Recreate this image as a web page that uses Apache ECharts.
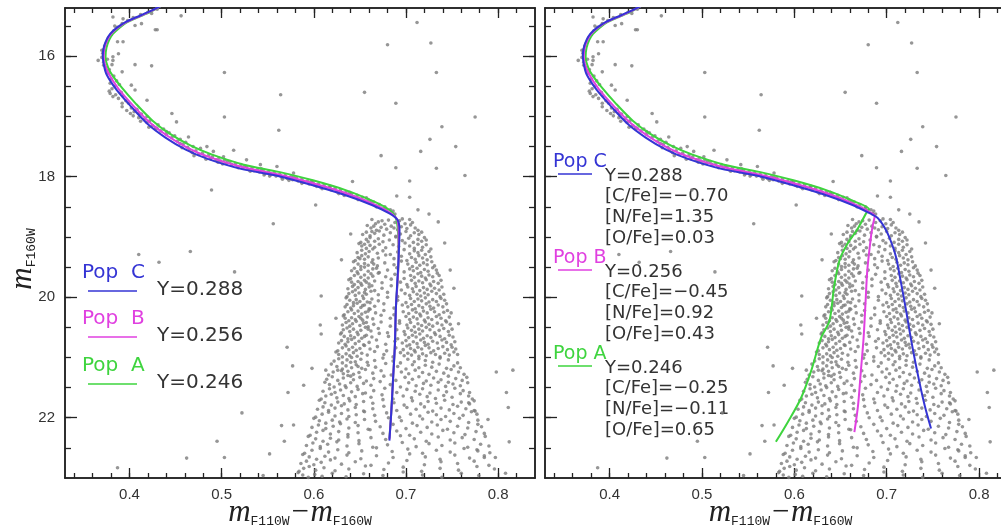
<!DOCTYPE html>
<html><head><meta charset="utf-8">
<script src="https://cdn.jsdelivr.net/npm/echarts@6/dist/echarts.min.js"></script>
<style>html,body{margin:0;padding:0;background:#fff}#c{width:1001px;height:529px}</style>
</head><body><div id="c"></div>
<script>
// ---- axis ranges & ticks ----
const xRange = [0.33, 0.84];
const yRange = [15.2, 23.0];
const xMajorTicks = [0.4, 0.5, 0.6, 0.7, 0.8];
const xTickLabels = ['0.4', '0.5', '0.6', '0.7', '0.8'];
const xMinorTicks = [0.34,0.36,0.38,0.40,0.42,0.44,0.46,0.48,0.50,0.52,0.54,0.56,0.58,0.60,0.62,0.64,0.66,0.68,0.70,0.72,0.74,0.76,0.78,0.80,0.82];
const yMajorTicks = [16, 18, 20, 22];
const yTickLabels = ['16', '18', '20', '22'];
const yMinorTicks = [15.5,16,16.5,17,17.5,18,18.5,19,19.5,20,20.5,21,21.5,22,22.5];

// ---- isochrones (colour, magnitude) ----
const isoUpperC = [[0.436,15.15],[0.420,15.27],[0.408,15.35],[0.396,15.43],[0.386,15.53],[0.379,15.63],[0.375,15.73],[0.372,15.86],[0.371,16.00],[0.372,16.13],[0.375,16.30],[0.386,16.56],[0.402,16.84],[0.420,17.13],[0.439,17.35],[0.461,17.55],[0.484,17.70],[0.521,17.87],[0.559,17.98],[0.596,18.13],[0.633,18.30],[0.663,18.47],[0.682,18.61]];
const isoUpperB = [[0.436,15.15],[0.421,15.27],[0.409,15.35],[0.397,15.43],[0.387,15.53],[0.380,15.63],[0.376,15.73],[0.373,15.86],[0.372,16.00],[0.373,16.12],[0.377,16.28],[0.388,16.54],[0.404,16.82],[0.422,17.10],[0.441,17.32],[0.463,17.52],[0.486,17.67],[0.522,17.84],[0.560,17.96],[0.597,18.10],[0.634,18.27],[0.664,18.45],[0.682,18.59]];
const isoUpperA = [[0.436,15.15],[0.422,15.27],[0.410,15.35],[0.398,15.43],[0.389,15.53],[0.382,15.63],[0.378,15.73],[0.375,15.86],[0.374,16.00],[0.375,16.11],[0.379,16.26],[0.391,16.51],[0.407,16.79],[0.425,17.07],[0.444,17.29],[0.466,17.48],[0.489,17.63],[0.524,17.80],[0.562,17.92],[0.599,18.06],[0.636,18.23],[0.665,18.41],[0.681,18.54]];
const leftLowerC = [[0.691,18.72],[0.693,18.89],[0.692,19.34],[0.689,20.20],[0.688,20.78],[0.686,21.35],[0.684,21.92],[0.682,22.38]];
const leftLowerB = [[0.690,18.70],[0.692,18.88],[0.692,19.34],[0.689,20.20],[0.688,20.78],[0.686,21.35],[0.684,21.92],[0.682,22.36]];
const leftLowerA = [[0.688,18.65],[0.691,18.85],[0.692,19.34],[0.689,20.20],[0.688,20.78],[0.686,21.35],[0.684,21.92],[0.682,22.34]];
const rightLowerC = [[0.690,18.68],[0.698,18.85],[0.704,19.05],[0.710,19.33],[0.715,19.72],[0.721,20.22],[0.726,20.67],[0.733,21.23],[0.741,21.79],[0.748,22.18]];
const rightLowerB = [[0.687,18.65],[0.685,18.80],[0.683,18.99],[0.679,19.55],[0.677,20.11],[0.675,20.67],[0.672,21.23],[0.669,21.79],[0.665,22.24]];
const rightLowerA = [[0.678,18.60],[0.668,18.88],[0.658,19.10],[0.649,19.38],[0.643,19.83],[0.638,20.39],[0.629,20.67],[0.618,21.23],[0.607,21.68],[0.593,22.07],[0.580,22.40]];

// ---- stars (colour, magnitude) ----
const upperStars = [[0.430,15.22],[0.420,15.27],[0.412,15.31],[0.404,15.36],[0.398,15.41],[0.392,15.46],[0.387,15.52],[0.383,15.58],[0.380,15.64],[0.377,15.70],[0.375,15.77],[0.373,15.83],[0.372,15.89],[0.371,15.95],[0.370,16.02],
[0.382,15.35],[0.393,15.38],[0.384,15.50],[0.406,15.49],[0.413,15.46],[0.428,15.56],[0.424,15.29],[0.387,15.76],[0.393,15.76],[0.388,15.96],[0.382,16.01],[0.370,15.90],[0.366,16.07],[0.372,16.15],[0.375,16.23],[0.382,16.07],[0.392,16.26],[0.402,16.48],[0.406,16.56],[0.379,16.62],[0.382,16.67],[0.392,16.78],[0.401,16.95],[0.410,16.95],[0.419,17.00],[0.419,16.73],[0.430,17.20],[0.440,17.25],[0.446,16.95],[0.451,17.09],[0.455,17.45],[0.464,17.34],[0.469,17.50],[0.477,17.53],[0.484,17.50],[0.491,17.58],[0.513,17.56],[0.502,17.67],[0.527,17.72],[0.542,17.80],[0.560,17.83],[0.578,17.94],
[0.372,16.10],[0.376,16.05],[0.374,16.18],[0.378,16.22],[0.381,16.14],[0.377,16.28],[0.383,16.33],[0.380,16.38],[0.386,16.41],[0.379,16.45],[0.384,16.50],[0.389,16.47],[0.378,16.58],[0.381,16.54],[0.385,16.64],[0.391,16.60],[0.388,16.70],[0.393,16.66],[0.396,16.74],[0.392,16.84],[0.399,16.78],[0.402,16.86],[0.397,16.90],[0.405,16.92],[0.408,16.88],[0.404,16.99],[0.410,17.02],[0.413,16.96],[0.416,17.05],[0.412,17.08],[0.419,17.10],[0.422,17.07],[0.425,17.15],[0.421,17.18],[0.428,17.19],[0.431,17.14],[0.434,17.24],[0.437,17.21],[0.440,17.30],[0.443,17.27],[0.446,17.35],[0.449,17.32],[0.452,17.41],[0.455,17.38],[0.458,17.46],[0.461,17.43],[0.463,17.51],[0.457,17.52],
[0.465,17.55],[0.468,17.60],[0.472,17.57],[0.475,17.63],[0.479,17.61],[0.481,17.66],[0.486,17.64],[0.488,17.70],[0.490,17.67],[0.494,17.72],[0.497,17.69],[0.499,17.74],[0.503,17.72],[0.505,17.78],[0.509,17.75],[0.511,17.80],[0.515,17.78],[0.517,17.83],[0.521,17.80],[0.523,17.86],[0.527,17.83],[0.529,17.88],[0.533,17.85],[0.535,17.90],[0.539,17.88],[0.541,17.92],[0.545,17.89],[0.547,17.95],[0.551,17.92],[0.553,17.97],[0.557,17.94],[0.559,17.99],[0.563,17.96],[0.565,18.01],[0.569,17.98],[0.571,18.03],[0.575,18.00],[0.577,18.05],[0.581,18.02],[0.583,18.07],[0.587,18.04],[0.589,18.09],[0.593,18.07],[0.595,18.12],[0.599,18.09],[0.601,18.14],[0.605,18.12],[0.607,18.17],[0.611,18.14],[0.613,18.19],[0.617,18.17],[0.619,18.22],[0.623,18.19],[0.625,18.25],[0.629,18.22],[0.631,18.27],[0.635,18.25],[0.637,18.30],[0.641,18.28],[0.643,18.33],[0.647,18.31],[0.649,18.36],[0.653,18.34],[0.655,18.40],[0.659,18.38],[0.661,18.44],[0.665,18.42],[0.667,18.48],[0.671,18.46],[0.673,18.52],[0.677,18.50],[0.679,18.56],[0.683,18.55],[0.685,18.61],[0.688,18.62],
[0.470,17.65],[0.483,17.71],[0.496,17.76],[0.506,17.74],[0.518,17.85],[0.531,17.91],[0.543,17.87],[0.552,17.99],[0.566,18.04],[0.578,18.01],[0.587,18.11],[0.597,18.08],[0.609,18.20],[0.618,18.16],[0.627,18.28],[0.639,18.26],[0.648,18.38],[0.657,18.35],[0.668,18.50],[0.677,18.53],[0.501,17.79],[0.525,17.82],[0.546,17.97],[0.573,18.06],[0.603,18.16],[0.633,18.31],[0.662,18.41],[0.686,18.57]];

const fieldStars = [[0.456,15.33],[0.430,15.56],[0.503,16.27],[0.424,16.16],[0.406,16.14],[0.564,16.64],[0.503,17.01],[0.562,17.23],[0.680,15.81],[0.727,15.78],[0.712,15.44],[0.733,16.27],[0.655,16.60],[0.689,16.78],[0.775,17.01],[0.739,17.17],[0.726,17.38],[0.754,17.50],[0.716,17.58],[0.673,17.65],[0.689,17.85],[0.733,17.86],[0.764,17.98],[0.642,18.08],[0.704,18.07],[0.704,18.34],[0.690,18.32],[0.713,18.55],[0.735,18.75],[0.489,18.22],[0.602,18.47],[0.556,18.78],[0.410,19.29],[0.432,19.42],[0.466,19.24],[0.514,19.58],[0.630,19.38],[0.608,19.98],[0.607,20.46],[0.608,20.61],[0.624,20.35],[0.571,20.83],[0.577,21.14],[0.598,21.18],[0.613,21.21],[0.572,21.58],[0.589,21.46],[0.522,21.92],[0.565,22.13],[0.578,22.12],[0.495,22.39],[0.568,22.39],[0.462,22.67],[0.503,22.66],[0.552,22.60],[0.387,22.83],[0.749,20.26],[0.757,20.44],[0.798,21.24],[0.816,21.21],[0.809,21.58],[0.811,21.83],[0.812,22.40],[0.808,22.92],[0.789,22.03],[0.785,22.66],[0.777,22.53],[0.746,21.41],[0.768,21.75],[0.775,21.89],[0.545,22.96],[0.640,18.95],[0.725,18.62],[0.742,19.10],[0.748,19.55],[0.752,19.85]];

const msStars = [
[.663,18.71],[.670,18.75],[.677,18.79],[.681,18.72],[.688,18.76],[.693,18.73],[.699,18.78],[.704,18.71],[.667,18.78],[.674,18.73],[.696,18.70],[.707,18.76],
[.658,18.81],[.662,18.85],[.668,18.89],[.673,18.84],[.679,18.87],[.684,18.82],[.691,18.88],[.695,18.83],[.701,18.86],[.705,18.80],[.710,18.85],[.713,18.89],[.665,18.82],[.687,18.85],
[.653,18.96],[.657,18.92],[.661,18.98],[.666,18.94],[.671,18.90],[.676,18.97],[.683,18.93],[.689,18.99],[.694,18.95],[.700,18.91],[.705,18.98],[.709,18.93],[.714,18.96],[.717,18.92],[.663,18.91],
[.651,19.09],[.657,19.04],[.661,19.01],[.666,19.07],[.670,19.03],[.675,19.08],[.682,19.05],[.689,19.00],[.696,19.06],[.703,19.02],[.708,19.09],[.713,19.04],[.717,19.07],[.720,19.01],[.722,19.05],[.659,19.08],
[.649,19.11],[.652,19.15],[.657,19.19],[.661,19.14],[.666,19.17],[.671,19.12],[.678,19.18],[.686,19.13],[.692,19.16],[.699,19.10],[.704,19.15],[.709,19.19],[.713,19.12],[.718,19.17],[.722,19.13],[.655,19.12],
[.647,19.26],[.652,19.22],[.656,19.28],[.660,19.24],[.664,19.20],[.669,19.27],[.675,19.23],[.683,19.29],[.691,19.25],[.698,19.21],[.704,19.28],[.709,19.23],[.713,19.26],[.717,19.22],[.721,19.29],[.725,19.24],[.727,19.20],
[.645,19.39],[.648,19.34],[.652,19.31],[.655,19.37],[.659,19.33],[.664,19.38],[.670,19.35],[.678,19.30],[.687,19.36],[.695,19.32],[.701,19.39],[.706,19.34],[.710,19.37],[.714,19.31],[.718,19.35],[.723,19.38],[.727,19.33],[.650,19.36],
[.643,19.41],[.648,19.45],[.651,19.49],[.655,19.44],[.659,19.47],[.663,19.42],[.669,19.48],[.677,19.43],[.687,19.46],[.695,19.40],[.702,19.45],[.707,19.49],[.711,19.42],[.715,19.47],[.719,19.43],[.723,19.46],[.728,19.41],[.731,19.48],[.665,19.45],
[.641,19.56],[.644,19.52],[.647,19.58],[.651,19.54],[.655,19.50],[.659,19.57],[.664,19.53],[.671,19.59],[.680,19.55],[.690,19.51],[.698,19.58],[.704,19.53],[.708,19.56],[.712,19.52],[.716,19.59],[.720,19.54],[.724,19.57],[.729,19.51],[.733,19.55],[.668,19.52],
[.640,19.69],[.644,19.64],[.648,19.61],[.651,19.67],[.655,19.63],[.659,19.68],[.664,19.65],[.670,19.60],[.678,19.66],[.688,19.62],[.698,19.69],[.705,19.64],[.709,19.67],[.713,19.61],[.717,19.65],[.721,19.68],[.725,19.63],[.729,19.66],[.734,19.60],[.736,19.64],[.662,19.61],
[.638,19.71],[.641,19.75],[.644,19.79],[.648,19.74],[.651,19.77],[.655,19.72],[.660,19.78],[.666,19.73],[.674,19.76],[.684,19.70],[.694,19.75],[.701,19.79],[.706,19.72],[.710,19.77],[.714,19.73],[.718,19.76],[.722,19.71],[.726,19.78],[.730,19.74],[.735,19.77],[.738,19.72],[.657,19.75],
[.637,19.86],[.642,19.82],[.645,19.88],[.648,19.84],[.652,19.80],[.656,19.87],[.660,19.83],[.666,19.89],[.674,19.85],[.684,19.81],[.695,19.88],[.702,19.83],[.707,19.86],[.711,19.82],[.715,19.89],[.719,19.84],[.723,19.87],[.727,19.81],[.731,19.85],[.736,19.88],[.739,19.83],[.663,19.81],
[.636,19.99],[.638,19.94],[.642,19.91],[.645,19.97],[.649,19.93],[.653,19.98],[.657,19.95],[.662,19.90],[.670,19.96],[.680,19.92],[.691,19.99],[.699,19.94],[.704,19.97],[.708,19.91],[.712,19.95],[.716,19.98],[.720,19.93],[.724,19.96],[.728,19.90],[.733,19.94],[.737,19.99],[.741,19.95],[.655,19.92],
[.635,20.01],[.639,20.05],[.643,20.09],[.646,20.04],[.650,20.07],[.654,20.02],[.658,20.08],[.663,20.03],[.670,20.06],[.680,20.00],[.691,20.05],[.700,20.09],[.705,20.02],[.709,20.07],[.713,20.03],[.717,20.06],[.721,20.01],[.725,20.08],[.729,20.04],[.733,20.07],[.738,20.02],[.742,20.05],[.661,20.09],
[.634,20.16],[.636,20.12],[.640,20.18],[.643,20.14],[.647,20.10],[.651,20.17],[.655,20.13],[.660,20.19],[.666,20.15],[.676,20.11],[.687,20.18],[.696,20.13],[.702,20.16],[.706,20.12],[.710,20.19],[.714,20.14],[.718,20.17],[.722,20.11],[.726,20.15],[.730,20.18],[.735,20.13],[.740,20.16],[.744,20.11],[.653,20.14],
[.633,20.29],[.637,20.24],[.641,20.21],[.644,20.27],[.648,20.23],[.652,20.28],[.656,20.25],[.661,20.20],[.667,20.26],[.676,20.22],[.687,20.29],[.697,20.24],[.703,20.27],[.707,20.21],[.711,20.25],[.715,20.28],[.719,20.23],[.723,20.26],[.727,20.20],[.731,20.24],[.736,20.29],[.741,20.25],[.745,20.22],[.659,20.23],
[.632,20.31],[.634,20.35],[.638,20.39],[.641,20.34],[.645,20.37],[.649,20.32],[.653,20.38],[.658,20.33],[.664,20.36],[.673,20.30],[.683,20.35],[.693,20.39],[.700,20.32],[.704,20.37],[.708,20.33],[.712,20.36],[.716,20.31],[.720,20.38],[.724,20.34],[.728,20.37],[.733,20.32],[.738,20.35],[.743,20.39],[.747,20.33],[.651,20.35],
[.631,20.46],[.635,20.42],[.639,20.48],[.642,20.44],[.646,20.40],[.650,20.47],[.654,20.43],[.659,20.49],[.665,20.45],[.673,20.41],[.683,20.48],[.693,20.43],[.701,20.46],[.705,20.42],[.709,20.49],[.713,20.44],[.717,20.47],[.721,20.41],[.725,20.45],[.729,20.48],[.734,20.43],[.739,20.46],[.744,20.41],[.748,20.45],[.657,20.42],
[.630,20.59],[.632,20.54],[.636,20.51],[.639,20.57],[.643,20.53],[.647,20.58],[.651,20.55],[.656,20.50],[.662,20.56],[.670,20.52],[.680,20.59],[.690,20.54],[.698,20.57],[.702,20.51],[.706,20.55],[.710,20.58],[.714,20.53],[.718,20.56],[.722,20.50],[.726,20.54],[.731,20.59],[.736,20.55],[.741,20.52],[.746,20.57],[.750,20.53],[.659,20.53],
[.629,20.61],[.633,20.65],[.637,20.69],[.640,20.64],[.644,20.67],[.648,20.62],[.652,20.68],[.657,20.63],[.663,20.66],[.671,20.60],[.681,20.65],[.691,20.69],[.699,20.62],[.703,20.67],[.707,20.63],[.711,20.66],[.715,20.61],[.719,20.68],[.723,20.64],[.727,20.67],[.732,20.62],[.737,20.65],[.742,20.69],[.747,20.63],[.751,20.66],[.655,20.65],
[.627,20.76],[.630,20.72],[.634,20.78],[.637,20.74],[.641,20.70],[.645,20.77],[.649,20.73],[.654,20.79],[.660,20.75],[.668,20.71],[.678,20.78],[.688,20.73],[.696,20.76],[.700,20.72],[.704,20.79],[.708,20.74],[.712,20.77],[.716,20.71],[.720,20.75],[.724,20.78],[.729,20.73],[.734,20.76],[.739,20.71],[.744,20.75],[.749,20.79],[.753,20.74],
[.626,20.89],[.631,20.84],[.635,20.81],[.638,20.87],[.642,20.83],[.646,20.88],[.650,20.85],[.655,20.80],[.661,20.86],[.669,20.82],[.679,20.89],[.689,20.84],[.697,20.87],[.701,20.81],[.705,20.85],[.709,20.88],[.713,20.83],[.717,20.86],[.721,20.80],[.725,20.84],[.730,20.89],[.735,20.85],[.740,20.82],[.745,20.87],[.750,20.83],[.754,20.86],
[.624,20.91],[.627,20.95],[.631,20.99],[.635,20.94],[.639,20.97],[.643,20.92],[.647,20.98],[.652,20.93],[.658,20.96],[.666,20.90],[.676,20.95],[.686,20.99],[.694,20.92],[.698,20.97],[.702,20.93],[.706,20.96],[.710,20.91],[.714,20.98],[.718,20.94],[.722,20.97],[.727,20.92],[.732,20.95],[.737,20.99],[.742,20.93],[.747,20.96],[.752,20.91],[.756,20.95],
[.622,21.06],[.627,21.02],[.631,21.09],[.636,21.04],[.641,21.00],[.645,21.07],[.651,21.03],[.658,21.08],[.666,21.05],[.675,21.01],[.686,21.06],[.694,21.09],[.702,21.03],[.709,21.07],[.714,21.02],[.721,21.05],[.729,21.08],[.737,21.01],[.746,21.04],[.756,21.09],[.640,21.08],
[.619,21.11],[.625,21.15],[.631,21.19],[.635,21.14],[.641,21.17],[.646,21.12],[.652,21.18],[.659,21.13],[.667,21.16],[.678,21.10],[.691,21.15],[.700,21.19],[.707,21.12],[.714,21.17],[.721,21.13],[.728,21.16],[.736,21.11],[.744,21.18],[.752,21.14],[.759,21.17],[.648,21.15],
[.616,21.29],[.621,21.24],[.626,21.21],[.632,21.27],[.637,21.23],[.643,21.28],[.649,21.25],[.656,21.20],[.664,21.26],[.673,21.22],[.684,21.29],[.695,21.24],[.703,21.27],[.710,21.21],[.718,21.25],[.725,21.28],[.733,21.23],[.741,21.26],[.749,21.20],[.757,21.24],[.763,21.28],[.630,21.22],
[.614,21.36],[.620,21.32],[.626,21.38],[.632,21.34],[.637,21.30],[.643,21.37],[.650,21.33],[.657,21.39],[.665,21.35],[.676,21.31],[.689,21.38],[.699,21.33],[.707,21.36],[.714,21.32],[.722,21.39],[.730,21.34],[.738,21.37],[.746,21.31],[.754,21.35],[.761,21.38],[.766,21.33],[.640,21.31],
[.612,21.41],[.617,21.45],[.622,21.49],[.628,21.44],[.634,21.47],[.640,21.42],[.647,21.48],[.654,21.43],[.662,21.46],[.672,21.40],[.683,21.45],[.694,21.49],[.703,21.42],[.711,21.47],[.719,21.43],[.727,21.46],[.735,21.41],[.743,21.48],[.751,21.44],[.759,21.47],[.767,21.42],
[.610,21.56],[.617,21.52],[.623,21.58],[.629,21.54],[.635,21.50],[.641,21.57],[.648,21.53],[.656,21.59],[.665,21.55],[.677,21.51],[.690,21.58],[.701,21.53],[.710,21.56],[.718,21.52],[.726,21.59],[.735,21.54],[.744,21.57],[.753,21.51],[.762,21.55],[.769,21.58],
[.608,21.69],[.613,21.64],[.619,21.61],[.625,21.67],[.632,21.63],[.638,21.68],[.645,21.65],[.653,21.60],[.662,21.66],[.674,21.62],[.686,21.69],[.697,21.64],[.706,21.67],[.715,21.61],[.723,21.65],[.732,21.68],[.741,21.63],[.750,21.66],[.759,21.60],[.768,21.64],[.772,21.69],
[.606,21.71],[.612,21.75],[.619,21.79],[.626,21.74],[.633,21.77],[.639,21.72],[.646,21.78],[.654,21.73],[.664,21.76],[.675,21.70],[.687,21.75],[.698,21.79],[.707,21.72],[.716,21.77],[.724,21.73],[.733,21.76],[.742,21.71],[.751,21.78],[.760,21.74],[.769,21.77],[.774,21.72],
[.604,21.86],[.610,21.82],[.616,21.88],[.623,21.84],[.630,21.80],[.637,21.87],[.645,21.83],[.654,21.89],[.664,21.85],[.676,21.81],[.690,21.88],[.701,21.83],[.711,21.86],[.720,21.82],[.729,21.89],[.738,21.84],[.747,21.87],[.756,21.81],[.765,21.85],[.774,21.88],
[.602,21.99],[.609,21.94],[.616,21.91],[.623,21.97],[.630,21.93],[.638,21.98],[.646,21.95],[.655,21.90],[.666,21.96],[.679,21.92],[.693,21.99],[.705,21.94],[.715,21.97],[.724,21.91],[.733,21.95],[.743,21.98],[.752,21.93],[.762,21.96],[.771,21.90],[.777,21.94],
[.600,22.01],[.606,22.05],[.613,22.09],[.620,22.04],[.628,22.07],[.636,22.02],[.645,22.08],[.655,22.03],[.667,22.06],[.681,22.00],[.695,22.05],[.707,22.09],[.718,22.02],[.728,22.07],[.738,22.03],[.748,22.06],[.758,22.01],[.768,22.08],[.778,22.04],
[.598,22.16],[.605,22.12],[.613,22.18],[.621,22.14],[.629,22.10],[.638,22.17],[.648,22.13],[.659,22.19],[.672,22.15],[.686,22.11],[.700,22.18],[.712,22.13],[.723,22.16],[.734,22.12],[.745,22.19],[.756,22.14],[.767,22.17],[.778,22.11],[.782,22.15],
[.596,22.29],[.603,22.24],[.610,22.21],[.618,22.27],[.627,22.23],[.637,22.28],[.648,22.25],[.661,22.20],[.675,22.26],[.690,22.22],[.704,22.29],[.716,22.24],[.728,22.27],[.740,22.21],[.752,22.25],[.764,22.28],[.776,22.23],[.785,22.26],
[.594,22.31],[.602,22.35],[.610,22.39],[.618,22.34],[.627,22.37],[.637,22.32],[.649,22.38],[.662,22.33],[.678,22.36],[.694,22.30],[.709,22.35],[.722,22.39],[.735,22.32],[.748,22.37],[.761,22.33],[.774,22.36],[.786,22.31],
[.592,22.46],[.599,22.42],[.607,22.48],[.615,22.44],[.625,22.40],[.636,22.47],[.649,22.43],[.664,22.49],[.680,22.45],[.696,22.41],[.711,22.48],[.725,22.43],[.739,22.46],[.753,22.42],[.767,22.49],[.781,22.44],[.790,22.47],
[.590,22.59],[.598,22.54],[.607,22.51],[.616,22.57],[.626,22.53],[.638,22.58],[.652,22.55],[.668,22.50],[.685,22.56],[.702,22.52],[.718,22.59],[.733,22.54],[.748,22.57],[.763,22.51],[.778,22.55],[.791,22.58],
[.588,22.61],[.595,22.65],[.603,22.69],[.612,22.64],[.623,22.67],[.636,22.62],[.651,22.68],[.668,22.63],[.686,22.66],[.704,22.60],[.721,22.65],[.737,22.69],[.753,22.62],[.769,22.67],[.785,22.63],[.797,22.66],
[.586,22.76],[.592,22.72],[.600,22.78],[.608,22.74],[.618,22.70],[.630,22.77],[.645,22.73],[.662,22.79],[.681,22.75],[.701,22.71],[.720,22.78],[.738,22.73],[.756,22.76],[.774,22.72],[.790,22.79],
[.584,22.89],[.589,22.84],[.595,22.81],[.602,22.87],[.611,22.83],[.623,22.88],[.638,22.85],[.656,22.80],[.676,22.86],[.697,22.82],[.717,22.89],[.737,22.84],[.757,22.87],[.777,22.81],[.796,22.85],
[.583,22.91],[.588,22.95],[.594,22.99],[.601,22.94],[.609,22.97],[.620,22.92],[.635,22.98],[.654,22.93],[.675,22.96],[.697,22.90],[.718,22.95],[.739,22.99],[.760,22.92],[.779,22.96]];

const popNames = ['Pop  C', 'Pop  B', 'Pop  A'];
const popHelium = ['Y=0.288', 'Y=0.256', 'Y=0.246'];
const popCFe = ['[C/Fe]=\u22120.70', '[C/Fe]=\u22120.45', '[C/Fe]=\u22120.25'];
const popNFe = ['[N/Fe]=1.35', '[N/Fe]=0.92', '[N/Fe]=\u22120.11'];
const popOFe = ['[O/Fe]=0.03', '[O/Fe]=0.43', '[O/Fe]=0.65'];
const popColors = ['#3434d4', '#e040e0', '#3ed43e'];

const allStars = upperStars.concat(fieldStars, msStars);

// ---- build ----
const AX = '#222';
const nameRich = {
  i: {fontFamily: 'Liberation Serif', fontStyle: 'italic', fontSize: 31, color: '#222', lineHeight: 34, verticalAlign: 'bottom'},
  s: {fontFamily: 'Liberation Mono', fontSize: 13, color: '#222', lineHeight: 16, verticalAlign: 'bottom'}
};
function xAxisDef(grid, pos, ticks, len, withLabels, name) {
  return {
    type: 'value', gridIndex: grid, position: pos, min: xRange[0], max: xRange[1],
    axisLine: {show: true, onZero: false, lineStyle: {color: AX, width: 1.5}},
    axisTick: {show: true, inside: true, length: len, customValues: ticks, lineStyle: {color: AX, width: 1.3}},
    axisLabel: withLabels ? {show: true, customValues: xMajorTicks, margin: 9, fontSize: 15, color: '#333', fontFamily: 'Liberation Sans',
      formatter: v => xTickLabels[xMajorTicks.findIndex(t => Math.abs(t - v) < 1e-6)]} : {show: false},
    splitLine: {show: false},
    name: name || '', nameLocation: 'middle', nameGap: 16, nameMoveOverlap: false,
    nameTextStyle: {rich: nameRich}
  };
}
function yAxisDef(grid, pos, ticks, len, withLabels, name) {
  return {
    type: 'value', gridIndex: grid, position: pos, inverse: true, min: yRange[0], max: yRange[1],
    axisLine: {show: true, onZero: false, lineStyle: {color: AX, width: 1.5}},
    axisTick: {show: true, inside: true, length: len, customValues: ticks, lineStyle: {color: AX, width: 1.3}},
    axisLabel: withLabels ? {show: true, customValues: yMajorTicks, margin: 10, fontSize: 15, color: '#333', fontFamily: 'Liberation Sans',
      formatter: v => yTickLabels[yMajorTicks.indexOf(v)]} : {show: false},
    splitLine: {show: false},
    name: name || '', nameLocation: 'middle', nameGap: 27, nameRotate: 90, nameMoveOverlap: false,
    nameTextStyle: {rich: nameRich, padding: [0, 32, 0, 0]}
  };
}
const xName = '{i|m}{s|F110W}{i|\u2212m}{s|F160W}';
const yName = '{i|m}{s|F160W}';
const xAxes = [], yAxes = [];
[0, 1].forEach(g => {
  xAxes.push(xAxisDef(g, 'bottom', xMajorTicks, 10, true, xName));
  xAxes.push(xAxisDef(g, 'bottom', xMinorTicks, 5, false));
  xAxes.push(xAxisDef(g, 'top', xMajorTicks, 10, false));
  xAxes.push(xAxisDef(g, 'top', xMinorTicks, 5, false));
  yAxes.push(yAxisDef(g, 'left', yMajorTicks, 12, g === 0, g === 0 ? yName : ''));
  yAxes.push(yAxisDef(g, 'left', yMinorTicks, 6, false));
  yAxes.push(yAxisDef(g, 'right', yMajorTicks, 12, false));
  yAxes.push(yAxisDef(g, 'right', yMinorTicks, 6, false));
});

function lineSeries(axisIdx, data, color) {
  return {type: 'line', xAxisIndex: axisIdx, yAxisIndex: axisIdx, data: data, showSymbol: false, smooth: 0.3,
    lineStyle: {color: color, width: 2}, z: 3, silent: true, clip: true};
}
function starSeries(axisIdx) {
  return {type: 'scatter', xAxisIndex: axisIdx, yAxisIndex: axisIdx, data: allStars, symbolSize: 3.6,
    itemStyle: {color: '#7c7c7c'}, z: 2, silent: true, clip: true};
}
const series = [
  starSeries(0),
  lineSeries(0, isoUpperA.concat(leftLowerA), popColors[2]),
  lineSeries(0, isoUpperB.concat(leftLowerB), popColors[1]),
  lineSeries(0, isoUpperC.concat(leftLowerC), popColors[0]),
  starSeries(4),
  lineSeries(4, isoUpperA.concat(rightLowerA), popColors[2]),
  lineSeries(4, isoUpperB.concat(rightLowerB), popColors[1]),
  lineSeries(4, isoUpperC.concat(rightLowerC), popColors[0])
];

// ---- annotations ----
const graphic = [];
const leftRows = [275, 321, 368];
leftRows.forEach((y, k) => {
  graphic.push({type: 'text', left: 82, top: y - 12, style: {text: popNames[k], fill: popColors[k], font: '20px "DejaVu Sans"'}});
  graphic.push({type: 'line', shape: {x1: 88, y1: y + 16, x2: 137, y2: y + 16}, style: {stroke: popColors[k], lineWidth: 1.5}});
  graphic.push({type: 'text', left: 157, top: y + 5, style: {text: popHelium[k], fill: '#333', font: '20px "DejaVu Sans"'}});
});
const rightRows = [164, 260, 356];
rightRows.forEach((y, k) => {
  graphic.push({type: 'text', left: 553, top: y - 11, style: {text: popNames[k].replace('  ', ' '), fill: popColors[k], font: '19px "DejaVu Sans"'}});
  graphic.push({type: 'line', shape: {x1: 558, y1: y + 10, x2: 592, y2: y + 10}, style: {stroke: popColors[k], lineWidth: 1.5}});
  [popHelium[k], popCFe[k], popNFe[k], popOFe[k]].forEach((t, j) => {
    graphic.push({type: 'text', left: 605, top: y + 3 + j * 20.7, style: {text: t, fill: '#333', font: '18px "DejaVu Sans"'}});
  });
});

const chart = echarts.init(document.getElementById('c'));
chart.setOption({
  animation: false,
  backgroundColor: '#fff',
  grid: [
    {left: 65, width: 470, top: 8, height: 470, outerBoundsMode: 'none', containLabel: false},
    {left: 545, width: 471, top: 8, height: 470, outerBoundsMode: 'none', containLabel: false}
  ],
  xAxis: xAxes,
  yAxis: yAxes,
  series: series,
  graphic: graphic
});
</script>
</body></html>
